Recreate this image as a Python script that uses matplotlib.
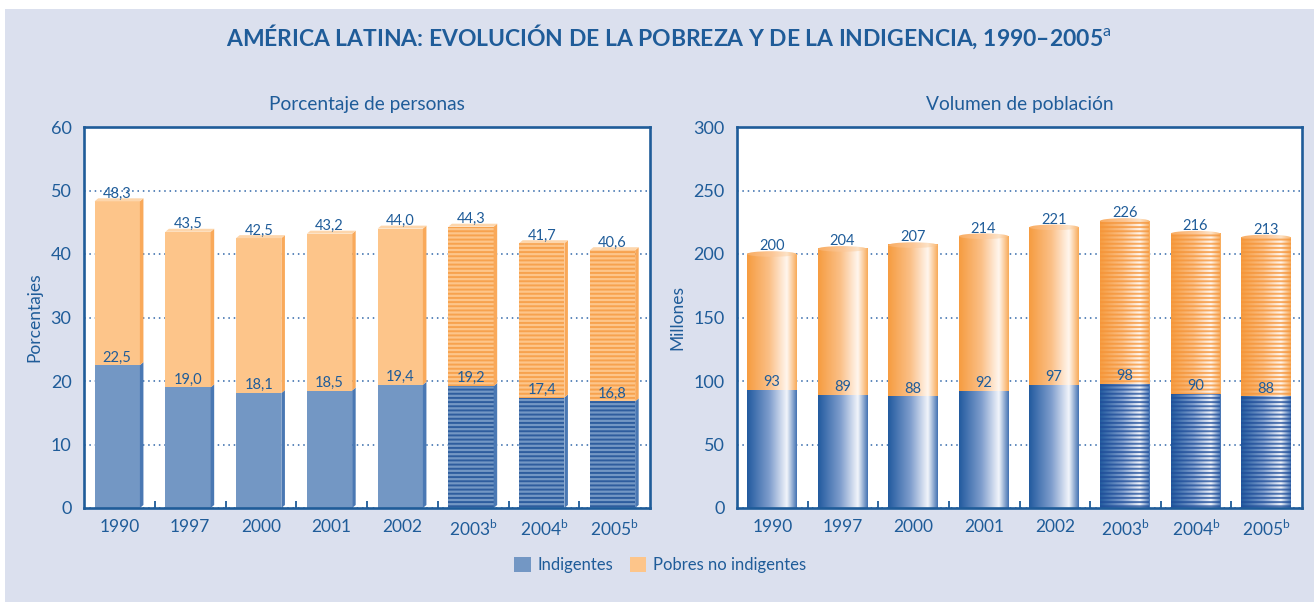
import numpy as np
import matplotlib
matplotlib.use('Agg')
import matplotlib.pyplot as plt
from matplotlib.patches import Rectangle, Polygon, Ellipse
from matplotlib.colors import to_rgb

# data
years = ['1990', '1997', '2000', '2001', '2002', '2003', '2004', '2005']
projected = [False, False, False, False, False, True, True, True]
pct_total = [48.3, 43.5, 42.5, 43.2, 44.0, 44.3, 41.7, 40.6]
pct_indig = [22.5, 19.0, 18.1, 18.5, 19.4, 19.2, 17.4, 16.8]
mill_total = [200, 204, 207, 214, 221, 226, 216, 213]
mill_indig = [93, 89, 88, 92, 97, 98, 90, 88]

TXT = '#1f5c99'
BG = '#dbe0ee'
BLUE = '#7397c4'
BLUE_SIDE = '#4a78b3'
BLUE_STRIPE = '#2e5d9e'
ORANGE = '#fdc58a'
ORANGE_SIDE = '#f9a95a'
ORANGE_TOP = '#fdd6ac'
ORANGE_STRIPE = '#f7a24e'

plt.rcParams['font.family'] = ['Lato', 'DejaVu Sans']
plt.rcParams['mathtext.fontset'] = 'custom'
plt.rcParams['mathtext.rm'] = 'Lato'
plt.rcParams['hatch.linewidth'] = 1.4

W, H = 1314, 602
fig = plt.figure(figsize=(W / 100, H / 100), dpi=100)
fig.add_artist(Rectangle((5 / W, 0), 1, 1 - 9 / H, transform=fig.transFigure,
                         facecolor=BG, edgecolor='none', zorder=-10))


def px_axes(x0, x1, y0, y1):
    return fig.add_axes([x0 / W, 1 - y1 / H, (x1 - x0) / W, (y1 - y0) / H])


def style_axes(ax, ymax, ystep, ylabel, subtitle):
    ax.set_facecolor('white')
    for s in ax.spines.values():
        s.set_color(TXT)
        s.set_linewidth(1.9)
    ax.set_xlim(-0.5, 7.5)
    ax.set_ylim(0, ymax)
    ax.set_yticks(np.arange(0, ymax + 1, ystep))
    ax.set_xticks(range(len(years)))
    ax.set_xticklabels([y + ('$^{\\mathrm{b}}$' if p else '') for y, p in zip(years, projected)])
    ax.set_xticks(np.arange(0.5, 7, 1), minor=True)
    ax.tick_params(axis='x', which='major', length=0, pad=8, labelsize=12.5, labelcolor=TXT)
    ax.tick_params(axis='x', which='minor', direction='in', length=5, width=1.3, color=TXT)
    ax.tick_params(axis='y', length=0, pad=9, labelsize=13, labelcolor=TXT)
    ax.yaxis.grid(True, linestyle=(0, (1, 2.5)), color='#2f66a8', linewidth=1.1)
    ax.set_axisbelow(True)
    ax.set_ylabel(ylabel, fontsize=12.5, color=TXT, labelpad=6)
    ax.set_title(subtitle, fontsize=13.8, color=TXT, pad=12)


def gradient(stops, n=256):
    pos = [p for p, c in stops]
    cols = np.array([to_rgb(c) for p, c in stops])
    t = np.linspace(0, 1, n)
    img = np.stack([np.interp(t, pos, cols[:, k]) for k in range(3)], axis=-1)
    return img[np.newaxis, :, :]


# ---- left panel: flat 3d bars ----
ax1 = px_axes(84, 650, 127, 508)
style_axes(ax1, 60, 10, 'Porcentajes', 'Porcentaje de personas')

bw, dep, dy = 0.64, 0.05, 0.47
for i, (tot, ind, proj) in enumerate(zip(pct_total, pct_indig, projected)):
    xl = i - 0.35
    xr = xl + bw
    for y0, y1, face, side, stripe in [(0, ind, BLUE, BLUE_SIDE, BLUE_STRIPE),
                                       (ind, tot, ORANGE, ORANGE_SIDE, ORANGE_STRIPE)]:
        ax1.add_patch(Rectangle((xl, y0), bw, y1 - y0, facecolor=face,
                                edgecolor=stripe if proj else 'none',
                                hatch='----' if proj else None, lw=0, zorder=2))
        ax1.add_patch(Polygon([(xr, y0), (xr + dep, y0 + dy), (xr + dep, y1 + dy), (xr, y1)],
                              closed=True, facecolor=side, edgecolor='none', zorder=2))
    ax1.add_patch(Polygon([(xl, tot), (xr, tot), (xr + dep, tot + dy), (xl + dep, tot + dy)],
                          closed=True, facecolor=ORANGE_TOP, edgecolor='none', zorder=2))
    for v in (ind, tot):
        ax1.annotate(f'{v:.1f}'.replace('.', ','), (i - 0.03, v), xytext=(0, 0.5),
                     textcoords='offset points', ha='center', va='bottom',
                     fontsize=10.5, color=TXT, zorder=5)

# ---- right panel: cylinders ----
ax2 = px_axes(737, 1302, 127, 508)
style_axes(ax2, 300, 50, 'Millones', 'Volumen de población')

orange_body = gradient([(0, '#f69c40'), (0.45, '#fbc088'), (0.8, '#fff6ee'), (1, '#f8aa58')])
orange_cap = gradient([(0, '#f9ad62'), (0.5, '#fcc797'), (0.8, '#fde2c6'), (1, '#fab670')])
blue_body = gradient([(0, '#225a9f'), (0.45, '#7f9ecd'), (0.8, '#f2f5fb'), (1, '#4372b2')])

cw, cap = 0.70, 2.2
for i, (tot, ind, proj) in enumerate(zip(mill_total, mill_indig, projected)):
    xl, xr = i - 0.36, i + 0.34
    ax2.imshow(blue_body, extent=[xl, xr, 0, ind], aspect='auto',
               interpolation='bilinear', zorder=2)
    ax2.imshow(orange_body, extent=[xl, xr, ind, tot], aspect='auto',
               interpolation='bilinear', zorder=2)
    top = Ellipse(((xl + xr) / 2, tot), cw, 2 * cap, facecolor='none', edgecolor='none')
    ax2.add_patch(top)
    im = ax2.imshow(orange_cap, extent=[xl, xr, tot - cap, tot + cap], aspect='auto',
                    interpolation='bilinear', zorder=3)
    im.set_clip_path(top)
    if proj:
        ax2.add_patch(Rectangle((xl, 0), cw, ind, facecolor='none', edgecolor=(0.12, 0.3, 0.6, 0.75),
                                hatch='----', lw=0, zorder=3))
        ax2.add_patch(Rectangle((xl, ind), cw, tot - ind, facecolor='none',
                                edgecolor=(0.96, 0.58, 0.22, 0.75), hatch='----', lw=0, zorder=3))
    ax2.annotate(f'{tot}', ((xl + xr) / 2, tot + cap), xytext=(0, -1.5), textcoords='offset points',
                 ha='center', va='bottom', fontsize=10.5, color=TXT, zorder=5)
    ax2.annotate(f'{ind}', ((xl + xr) / 2, ind), xytext=(0, 0.5), textcoords='offset points',
                 ha='center', va='bottom', fontsize=10.5, color=TXT, zorder=5)
ax2.set_xlim(-0.5, 7.5)
ax2.set_ylim(0, 300)

# title and legend
fig.text(226 / W, 1 - 37 / H, 'AMÉRICA LATINA: EVOLUCIÓN DE LA POBREZA Y DE LA INDIGENCIA, 1990–2005$^{\\mathrm{a}}$',
         ha='left', va='center', fontsize=16.5, fontweight='bold', color=TXT)

handles = [Rectangle((0, 0), 1, 1, facecolor=BLUE), Rectangle((0, 0), 1, 1, facecolor=ORANGE)]
leg = fig.legend(handles, ['Indigentes', 'Pobres no indigentes'], loc='center',
                 bbox_to_anchor=(660 / W, 1 - 565 / H), ncol=2, frameon=False,
                 fontsize=12, handlelength=1.0, handleheight=1.0, handletextpad=0.4,
                 columnspacing=1.0)
for t in leg.get_texts():
    t.set_color(TXT)

fig.savefig('out.png', dpi=100)
